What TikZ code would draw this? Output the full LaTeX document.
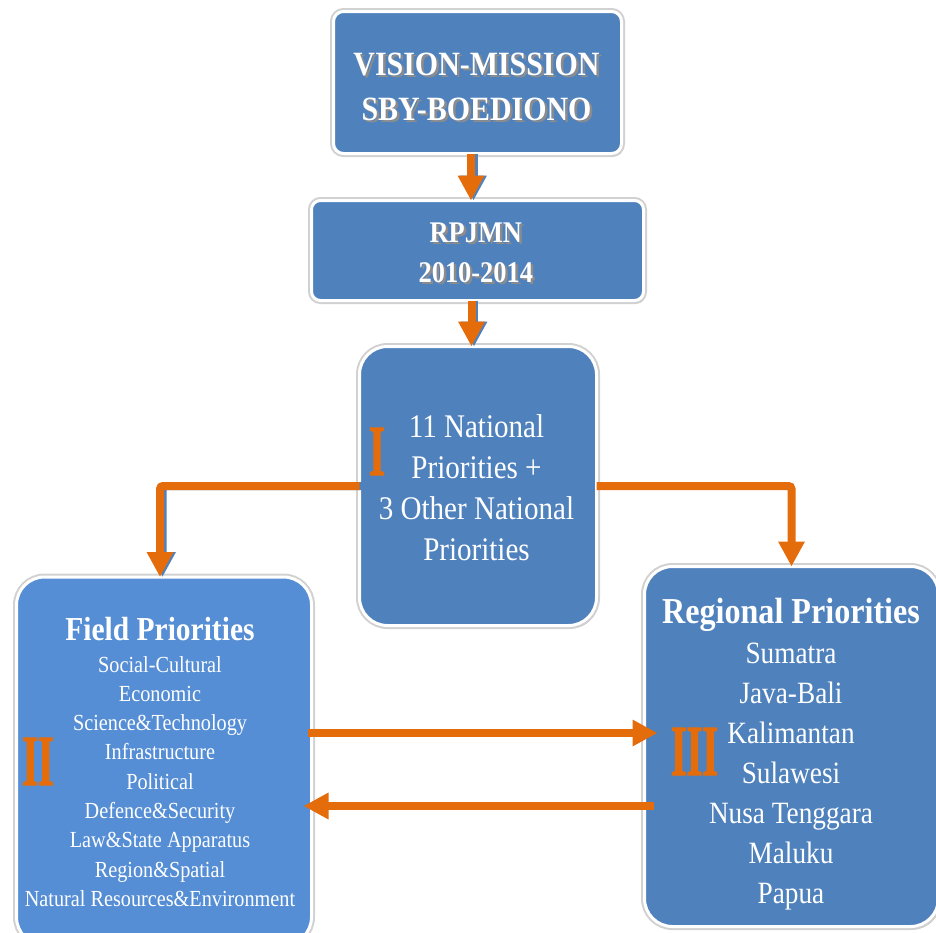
\documentclass[tikz,border=0pt]{standalone}
\usepackage{fontspec}
\setmainfont[FakeStretch=0.88]{Liberation Serif}
\newfontfamily\romfont[FakeStretch=0.56,FakeBold=1.5]{Liberation Serif Bold}
\usetikzlibrary{arrows.meta,shadows}
\definecolor{boxblue}{HTML}{4F81BD}
\definecolor{boxblueL}{HTML}{558ED5}
\definecolor{arrorange}{HTML}{E46C0A}
\newcommand\myshadowtext[1]{\makebox[0pt][l]{\kern2.5pt\raisebox{-2.5pt}{\textcolor{black!45}{#1}}}#1}
\begin{document}
\begin{tikzpicture}[x=1pt,y=-1pt,
  box/.style={rectangle, draw=white, line width=3pt, fill=boxblue, inner sep=0pt, outer sep=0pt,
    drop shadow={shadow xshift=2pt,shadow yshift=-3pt,opacity=0.3,fill=black},
    preaction={draw=black!18,line width=7pt}},
  ttl/.style={text=white, inner sep=0pt, anchor=base, font=\bfseries\fontsize{34}{34}\selectfont},
  ttlb/.style={text=white, inner sep=0pt, anchor=base, font=\bfseries\fontsize{30}{30}\selectfont},
  txt/.style={text=white, inner sep=0pt, anchor=base},
  rom/.style={text=arrorange, inner sep=0pt, anchor=base, font=\romfont\fontsize{72}{72}\selectfont},
  arr/.style={draw=arrorange, line width=8pt, -{Triangle[width=25pt,length=25pt]}, rounded corners=3pt},
  arrsh/.style={arr, draw=boxblue}
]
\useasboundingbox (0,0) rectangle (936,932);
\clip (0,0) rectangle (936,932);

% boxes
\node[box, rounded corners=10pt, minimum width=288pt, minimum height=142pt] (vm) at (477.5,82.5) {};
\node[box, rounded corners=9pt, minimum width=332pt, minimum height=100pt] (rp) at (477.5,250.5) {};
\node[box, rounded corners=28pt, minimum width=237pt, minimum height=279pt] (c) at (478,486) {};
\node[box, fill=boxblueL, rounded corners=28pt, minimum width=295pt, minimum height=368pt] (fp) at (164,761) {};
\node[box, rounded corners=28pt, minimum width=294pt, minimum height=360pt] (rg) at (791.5,746.5) {};

% top texts
\node[ttl] (vm1) at (476.5,75) {\myshadowtext{VISION-MISSION}};
\node[ttl] (vm2) at (476.5,120) {\myshadowtext{SBY-BOEDIONO}};
\node[ttlb] (rp1) at (475.8,242) {\myshadowtext{RPJMN}};
\node[ttlb] (rp2) at (475.8,282) {\myshadowtext{2010-2014}};

% centre texts
\foreach \t [count=\i] in {11 National, Priorities +, 3 Other National, Priorities}
  \node[txt, font=\fontsize{33}{33}\selectfont] (c\i) at (476.5,{437+41*(\i-1)}) {\t};
\node[rom] (rI) at (377,475) {I};

% field priorities
\node[txt, font=\bfseries\fontsize{33.5}{33.5}\selectfont] (fpt) at (160,640) {Field Priorities};
\foreach \t [count=\i] in {Social-Cultural, Economic, Science\&Technology, Infrastructure, Political, Defence\&Security, Law\&State Apparatus, Region\&Spatial, Natural Resources\&Environment}
  \node[txt, font=\fontsize{23}{23}\selectfont] (f\i) at (160,{672+29.3*(\i-1)}) {\t};
\node[rom] (rII) at (38,785) {II};

% regional priorities
\node[txt, font=\bfseries\fontsize{36.5}{36.5}\selectfont] (rgt) at (791,623) {Regional Priorities};
\foreach \t [count=\i] in {Sumatra, Java-Bali, Kalimantan, Sulawesi, Nusa Tenggara, Maluku, Papua}
  \node[txt, font=\fontsize{31}{31}\selectfont] (r\i) at (791,{663+40*(\i-1)}) {\t};
\node[rom] (rIII) at (694.5,775) {III};

% connectors
\coordinate (ua) at ([yshift=28pt]fp.east);
\coordinate (la) at ([yshift=-45pt]fp.east);
\begin{scope}[transform canvas={xshift=2.5pt}]
  \draw[arrsh] ([xshift=-6.5pt]vm.south) -- ([xshift=-6.5pt]vm.south |- rp.north);
  \draw[arrsh] ([xshift=-6pt]rp.south) -- ([xshift=-6pt]rp.south |- c.north);
  \draw[arrsh] (c.west) -| ([xshift=-4pt]fp.north);
\end{scope}
\draw[arr] ([xshift=-6.5pt]vm.south) -- ([xshift=-6.5pt]vm.south |- rp.north);
\draw[arr] ([xshift=-6pt]rp.south) -- ([xshift=-6pt]rp.south |- c.north);
\draw[arr] (c.west) -| ([xshift=-4pt]fp.north);
\draw[arr] (c.east) -| (rg.north);
\draw[arr] ([xshift=-4pt]ua) -- ([xshift=13pt]ua -| rg.west);
\draw[arr] ([xshift=9pt]la -| rg.west) -- ([xshift=-8pt]la);
\end{tikzpicture}
\end{document}
